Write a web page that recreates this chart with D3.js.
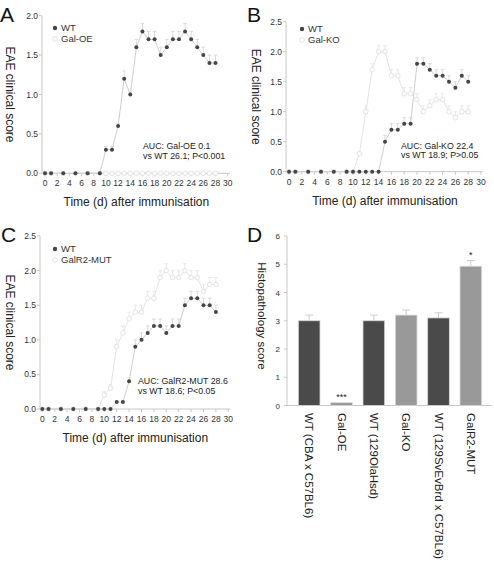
<!DOCTYPE html>
<html><head><meta charset="utf-8">
<script src="https://cdn.jsdelivr.net/npm/d3@7"></script>
<style>
body{margin:0;background:#fff;}
svg{display:block;font-family:"Liberation Sans",Arial,sans-serif;}
</style></head>
<body><svg id="c" width="494" height="564"></svg>
<script>
// ---------- data ----------
const xTicks = [0,2,4,6,8,10,12,14,16,18,20,22,24,26,28,30];

const daysA = [0,1,3,5,7,9,10,11,12,13,14,15,16,17,18,19,20,21,22,23,24,25,26,27,28];
const wtA    = [0,0,0,0,0,0,0.3,0.3,0.6,1.2,1.0,1.6,1.8,1.7,1.7,1.5,1.6,1.7,1.7,1.8,1.7,1.6,1.5,1.4,1.4];
const wtAErr = [0,0,0,0,0,0,0.04,0.04,0.03,0.1,0.03,0.1,0.1,0.1,0.1,0.1,0.1,0.1,0.1,0.1,0.1,0.1,0.1,0.1,0.1];
const galOE    = [0,0,0,0,0,0,0,0,0,0,0,0,0,0,0,0,0,0,0,0,0,0,0,0,0];
const galOEErr = [0,0,0,0,0,0,0,0,0,0,0,0,0,0,0,0,0,0,0,0,0,0,0,0,0];

const daysB = [0,1,3,5,7,9,10,11,12,13,14,15,16,17,18,19,20,21,22,23,24,25,26,27,28];
const wtB    = [0,0,0,0,0,0,0,0,0,0,0,0.5,0.7,0.7,0.8,0.8,1.8,1.8,1.7,1.6,1.6,1.5,1.4,1.6,1.5];
const wtBErr = [0,0,0,0,0,0,0,0,0,0,0,0.1,0.1,0.1,0.1,0.1,0.1,0.1,0.1,0.1,0.1,0.1,0.1,0.1,0.1];
const galKO    = [0,0,0,0,0,0,0,0.3,1.0,1.7,2.0,2.0,1.6,1.6,1.3,1.3,1.2,1.0,1.1,1.2,1.2,1.0,0.9,1.0,1.0];
const galKOErr = [0,0,0,0,0,0,0,0.03,0.1,0.1,0.1,0.1,0.1,0.1,0.1,0.1,0.1,0.1,0.1,0.1,0.1,0.1,0.1,0.1,0.1];

const daysC = [0,1,3,5,7,9,10,11,12,13,14,15,16,17,18,19,20,21,22,23,24,25,26,27,28];
const wtC    = [0,0,0,0,0,0,0,0,0.1,0.1,0.4,0.9,1.0,1.1,1.2,1.2,1.1,1.2,1.2,1.5,1.6,1.6,1.5,1.5,1.4];
const wtCErr = [0,0,0,0,0,0,0,0,0.02,0.02,0.05,0.1,0.1,0.1,0.1,0.1,0.1,0.1,0.1,0.1,0.1,0.1,0.1,0.1,0.1];
const galR2    = [0,0,0,0,0,0,0.2,0.3,0.9,1.1,1.3,1.4,1.4,1.6,1.6,1.9,2.0,1.9,1.9,2.0,1.9,1.9,1.7,1.8,1.8];
const galR2Err = [0,0,0,0,0,0,0.05,0.05,0.1,0.1,0.1,0.1,0.1,0.1,0.1,0.1,0.1,0.1,0.1,0.1,0.1,0.1,0.1,0.1,0.1];

const histoCats = ["WT (CBA x C57BL6)","Gal-OE","WT (129OlaHsd)","Gal-KO","WT (129SvEvBrd x C57BL6)","GalR2-MUT"];
const histoVals = [3.0,0.1,3.0,3.2,3.1,4.93];
const histoErr  = [0.2,0,0.2,0.18,0.18,0.2];
const histoWT   = [true,false,true,false,true,false];
const histoSig  = ["","***","","","","*"];
const histoTicks = [0,1,2,3,4,5,6];

// ---------- drawing ----------
const svg = d3.select("#c");
const AX = "#c8c8c8", DARK = "#454545", LINE = "#cfcfcf", LIGHT = "#dcdcdc", TXT = "#333";

function linePanel(o){
  const g = svg.append("g");
  const x = d3.scaleLinear().domain([0,30]).range(o.xr);
  const y = d3.scaleLinear().domain([0,o.ymax]).range(o.yr);
  g.append("line").attr("x1",o.ax).attr("x2",o.ax).attr("y1",o.yr[1]).attr("y2",o.yr[0]).attr("stroke",AX);
  g.append("line").attr("x1",o.ax).attr("x2",o.xr[1]+2).attr("y1",o.yr[0]).attr("y2",o.yr[0]).attr("stroke",AX);
  const yTicks = d3.range(0,o.ymax+0.001,0.5);
  g.selectAll(".yt").data(yTicks).join("line").attr("x1",o.ax-3).attr("x2",o.ax)
    .attr("y1",d=>y(d)).attr("y2",d=>y(d)).attr("stroke",AX);
  g.selectAll(".yl").data(yTicks).join("text").attr("x",o.ax-4).attr("y",d=>y(d)+3)
    .attr("text-anchor","end").attr("font-size",8.5).attr("fill",TXT).text(d=>d.toFixed(1));
  g.selectAll(".xt").data(xTicks).join("line").attr("x1",d=>x(d)).attr("x2",d=>x(d))
    .attr("y1",o.yr[0]).attr("y2",o.yr[0]+3).attr("stroke",AX);
  g.selectAll(".xl").data(xTicks).join("text").attr("x",d=>x(d)).attr("y",o.yr[0]+13)
    .attr("text-anchor","middle").attr("font-size",8.5).attr("fill",TXT).text(d=>d);
  g.append("text").attr("x",(o.xr[0]+o.xr[1])/2).attr("y",o.yr[0]+33).attr("text-anchor","middle")
    .attr("font-size",12).attr("fill","#222").text("Time (d) after immunisation");
  g.append("text").attr("transform",`translate(${o.ytx},${(o.yr[0]+o.yr[1])/2}) rotate(90)`)
    .attr("text-anchor","middle").attr("font-size",12).attr("fill","#222").text("EAE clinical score");
  g.append("text").attr("x",o.lx).attr("y",o.ly).attr("font-size",21).attr("fill","#111").text(o.letter);
  const line = d3.line().x(d=>x(d.d)).y(d=>y(d.v));
  function series(days, vals, errs, filled){
    const data = days.map((d,i)=>({d, v:vals[i], e:errs[i]}));
    g.append("path").datum(data).attr("d",line).attr("fill","none")
      .attr("stroke",filled?LINE:"#e4e4e4").attr("stroke-width",1);
    const eb = g.append("g").attr("stroke",filled?"#d2d2d2":"#e2e2e2").attr("stroke-width",0.8);
    data.filter(p=>p.e>0).forEach(p=>{
      eb.append("line").attr("x1",x(p.d)).attr("x2",x(p.d)).attr("y1",y(p.v)).attr("y2",y(p.v+p.e));
      eb.append("line").attr("x1",x(p.d)-1.8).attr("x2",x(p.d)+1.8).attr("y1",y(p.v+p.e)).attr("y2",y(p.v+p.e));
    });
    g.append("g").selectAll("circle").data(data).join("circle")
      .attr("cx",p=>x(p.d)).attr("cy",p=>y(p.v)).attr("r",filled?2:2.3)
      .attr("fill",filled?DARK:"#fff").attr("stroke",filled?"none":LIGHT).attr("stroke-width",0.8);
  }
  series(o.mutDays,o.mut,o.mutErr,false);
  series(o.wtDays,o.wt,o.wtErr,true);
  g.append("circle").attr("cx",o.legx).attr("cy",o.legy).attr("r",2.2).attr("fill",DARK);
  g.append("text").attr("x",o.legx+6).attr("y",o.legy+3).attr("font-size",9.5).attr("fill",TXT).text("WT");
  g.append("circle").attr("cx",o.legx).attr("cy",o.legy+11).attr("r",2.4).attr("fill","#fff").attr("stroke",LIGHT).attr("stroke-width",0.8);
  g.append("text").attr("x",o.legx+6).attr("y",o.legy+14).attr("font-size",9.5).attr("fill",TXT).text(o.mutName);
  o.auc.forEach((t,i)=>g.append("text").attr("x",o.aucx).attr("y",o.aucy+i*9.5)
    .attr("font-size",8.8).attr("fill","#222").text(t));
}

linePanel({letter:"A",lx:0,ly:22,xr:[45,227.7],yr:[173.3,15.7],ymax:2,ax:42,ytx:6,
  wtDays:daysA,wt:wtA,wtErr:wtAErr,mutDays:daysA,mut:galOE,mutErr:galOEErr,mutName:"Gal-OE",
  legx:55,legy:28,auc:["AUC: Gal-OE 0.1","vs WT 26.1; P<0.001"],aucx:143,aucy:149});
linePanel({letter:"B",lx:247,ly:22,xr:[289,481],yr:[171.7,21.7],ymax:2.5,ax:286,ytx:252,
  wtDays:daysB,wt:wtB,wtErr:wtBErr,mutDays:daysB,mut:galKO,mutErr:galKOErr,mutName:"Gal-KO",
  legx:302,legy:29,auc:["AUC: Gal-KO 22.4","vs WT 18.9; P>0.05"],aucx:401,aucy:148.5});
linePanel({letter:"C",lx:1,ly:242,xr:[42.3,228.3],yr:[409,236],ymax:2.5,ax:40,ytx:6,
  wtDays:daysC,wt:wtC,wtErr:wtCErr,mutDays:daysC,mut:galR2,mutErr:galR2Err,mutName:"GalR2-MUT",
  legx:55,legy:249,auc:["AUC: GalR2-MUT 28.6","vs WT 18.6; P<0.05"],aucx:138,aucy:384});

// ---------- panel D ----------
(function(){
  const g = svg.append("g");
  const x = d3.scaleBand().domain(histoCats).range([293,487]).paddingInner(0.33).paddingOuter(0.165);
  const y = d3.scaleLinear().domain([0,6]).range([405.5,236]);
  g.append("line").attr("x1",287).attr("x2",287).attr("y1",236).attr("y2",405.5).attr("stroke",AX);
  g.append("line").attr("x1",287).attr("x2",492).attr("y1",405.5).attr("y2",405.5).attr("stroke",AX);
  g.selectAll(".yt").data(histoTicks).join("line").attr("x1",284).attr("x2",287)
    .attr("y1",d=>y(d)).attr("y2",d=>y(d)).attr("stroke",AX);
  g.selectAll(".yl").data(histoTicks).join("text").attr("x",280).attr("y",d=>y(d)+3)
    .attr("text-anchor","end").attr("font-size",8).attr("fill",TXT).text(d=>d);
  g.selectAll("rect").data(histoCats).join("rect")
    .attr("x",d=>x(d)).attr("width",x.bandwidth())
    .attr("y",(d,i)=>y(histoVals[i])).attr("height",(d,i)=>y(0)-y(histoVals[i]))
    .attr("fill",(d,i)=>histoWT[i]?"#4a4a4a":"#999").attr("stroke","#d8d8d8").attr("stroke-width",0.8);
  histoCats.forEach((c,i)=>{
    if(histoErr[i]>0){
      const cx = x(c)+x.bandwidth()/2;
      g.append("line").attr("x1",cx).attr("x2",cx).attr("y1",y(histoVals[i])).attr("y2",y(histoVals[i]+histoErr[i])).attr("stroke","#ccc");
      g.append("line").attr("x1",cx-4).attr("x2",cx+4).attr("y1",y(histoVals[i]+histoErr[i])).attr("y2",y(histoVals[i]+histoErr[i])).attr("stroke","#ccc");
    }
    if(histoSig[i]){
      g.append("text").attr("x",x(c)+x.bandwidth()/2).attr("y",y(histoVals[i]+histoErr[i])-3)
        .attr("text-anchor","middle").attr("font-size",9).attr("fill","#222").text(histoSig[i]);
    }
    g.append("text").attr("transform",`translate(${x(c)+x.bandwidth()/2-4},${413}) rotate(90)`)
      .attr("text-anchor","start").attr("font-size",11.5).attr("fill","#222").text(c);
  });
  g.append("text").attr("transform",`translate(${258},${316}) rotate(90)`)
    .attr("text-anchor","middle").attr("font-size",11.5).attr("fill","#222").text("Histopathology score");
  g.append("text").attr("x",247).attr("y",242).attr("font-size",21).attr("fill","#111").text("D");
})();
</script></body></html>
